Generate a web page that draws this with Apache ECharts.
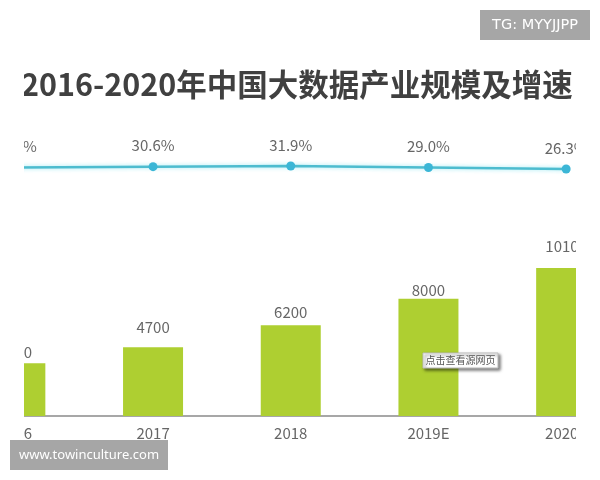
<!DOCTYPE html>
<html><head><meta charset="utf-8">
<style>html,body{margin:0;padding:0;background:#fff}#c{width:600px;height:480px;filter:blur(0.5px)}</style>
<script src="https://cdn.jsdelivr.net/npm/echarts@6/dist/echarts.min.js"></script>
</head><body><div id="c"></div>
<script>
const categories = ['2016','2017','2018','2019E','2020E'];
const scaleValues = [3600,4700,6200,8000,10100];
const growthValues = [29.0,30.6,31.9,29.0,26.3];
const growthLabels = ['29.0%','30.6%','31.9%','29.0%','26.3%'];
const barLabelLift = [2,11,4,0,13];
const titleText = '2016-2020年中国大数据产业规模及增速';
const font = '"Noto Sans CJK SC","Noto Sans",sans-serif';
const textColor = '#666666';
const chart = echarts.init(document.getElementById('c'), null, {renderer:'canvas'});
const cover = (x,w) => ({type:'rect',z:100,silent:true,shape:{x:x,y:0,width:w,height:480},style:{fill:'#fff'}});
const stamp = (x,y,w,h,t,f) => ({type:'group',z:101,children:[
  {type:'rect',z:101,shape:{x:x,y:y,width:w,height:h},style:{fill:'#a6a6a6'}},
  {type:'text',z:102,x:x+w/2,y:y+h/2,style:{text:t,fill:'#fff',font:f,align:'center',verticalAlign:'middle'}}
]});
chart.setOption({
  animation:false,
  backgroundColor:'#fff',
  title:{text:titleText,left:16,top:64,textStyle:{fontFamily:font,fontSize:30.5,fontWeight:'bold',color:'#404040'}},
  grid:[
    {left:-53.5,width:688.5,top:240.3,height:175.7,outerBoundsMode:'none'},
    {left:-53.5,width:688.5,top:129.2,height:54,outerBoundsMode:'none'}
  ],
  xAxis:[
    {type:'category',gridIndex:0,data:categories,axisTick:{show:false},
     axisLine:{lineStyle:{color:'#8a8a8a',width:1.5}},
     axisLabel:{color:textColor,fontSize:15,fontFamily:font,margin:10,interval:0}},
    {type:'category',gridIndex:1,data:categories,show:false}
  ],
  yAxis:[
    {type:'value',gridIndex:0,min:0,max:12000,show:false},
    {type:'value',gridIndex:1,min:0,max:100,show:false}
  ],
  series:[
    {type:'bar',xAxisIndex:0,yAxisIndex:0,barWidth:60,
     data:scaleValues.map((v,i)=>({value:v,label:{distance:barLabelLift[i]+1}})),
     itemStyle:{color:'#aecf31'},
     label:{show:true,position:'top',color:textColor,fontSize:15,fontFamily:font}},
    {type:'line',xAxisIndex:1,yAxisIndex:1,data:growthValues,symbol:'circle',symbolSize:9,
     lineStyle:{color:'#4dbccf',width:2.5,shadowColor:'rgba(90,220,235,0.6)',shadowBlur:4},
     itemStyle:{color:'#3bb6d6'},
     label:{show:true,position:'top',distance:9,color:textColor,fontSize:15,fontFamily:font,
       formatter:p=>growthLabels[p.dataIndex]}}
  ],
  graphic:[
    cover(0,24),cover(576,24),
    stamp(480,10,110,30,'TG: MYYJJPP','14.5px "DejaVu Sans",sans-serif'),
    stamp(10,440,158,30,'www.towinculture.com','13px "Noto Sans",sans-serif'),
    {type:'group',z:90,children:[
      {type:'rect',z:90,shape:{x:423,y:353,width:75,height:15},
       style:{fill:'#fff',stroke:'#bdbdbd',lineWidth:1,shadowColor:'rgba(0,0,0,0.5)',shadowBlur:3,shadowOffsetX:2,shadowOffsetY:2}},
      {type:'text',z:91,x:460.5,y:360.5,style:{text:'点击查看源网页',fill:'#555',font:'10px "Noto Sans CJK SC"',align:'center',verticalAlign:'middle'}}
    ]}
  ]
});
</script></body></html>
